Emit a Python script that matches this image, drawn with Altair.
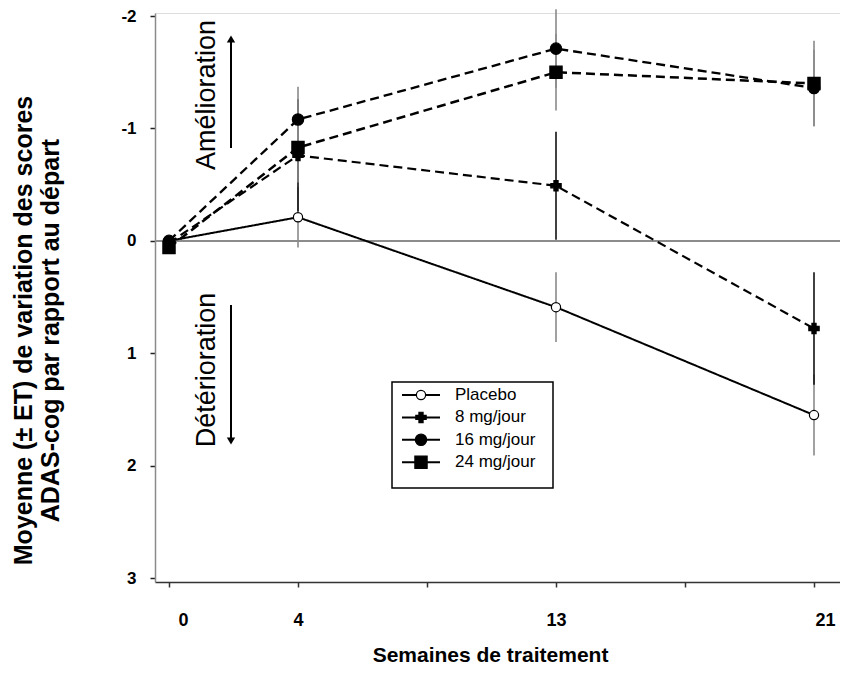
import altair as alt
import pandas as pd

# ---------------- data ----------------
weeks = [0, 4, 13, 21]
groups = ["Placebo", "8 mg/jour", "16 mg/jour", "24 mg/jour"]
mean_placebo = [0.0, -0.21, 0.59, 1.55]
mean_8mg = [0.02, -0.76, -0.49, 0.78]
mean_16mg = [0.0, -1.08, -1.71, -1.36]
mean_24mg = [0.06, -0.83, -1.50, -1.40]
se_placebo = [0.0, 0.27, 0.31, 0.36]
se_8mg = [0.0, 0.50, 0.48, 0.50]
se_16mg = [0.0, 0.29, 0.35, 0.34]
se_24mg = [0.0, 0.31, 0.34, 0.38]

x_tick_values = [0, 4, 8.5, 13, 17, 21]
x_tick_labels = ["0", "4", "", "13", "", "21"]
y_tick_values = [-2, -1, 0, 1, 2, 3]

annot_labels = ["Amélioration", "Détérioration"]

# ---------------- tables ----------------
rows = []
for g, means, ses in zip(groups, [mean_placebo, mean_8mg, mean_16mg, mean_24mg],
                         [se_placebo, se_8mg, se_16mg, se_24mg]):
    for w, m, s in zip(weeks, means, ses):
        rows.append({"group": g, "week": w, "value": m, "lo": m - s, "hi": m + s})
df = pd.DataFrame(rows)

# ---------------- layout / scales ----------------
W, H = 685, 569
step = 129
x_left = 14
px_per_week = step / 4.0
x_domain = [-x_left / px_per_week, 0, 4, 13, 21, 21 + (W - (x_left + 5 * step)) / px_per_week]
x_range = [0, x_left, x_left + step, x_left + 3 * step, x_left + 5 * step, W]
y_top, y_bot = -2.027, 3.035


def px_to_week(px):
    for i in range(len(x_range) - 1):
        if x_range[i] <= px <= x_range[i + 1] or i == len(x_range) - 2:
            f = (px - x_range[i]) / (x_range[i + 1] - x_range[i])
            return x_domain[i] + f * (x_domain[i + 1] - x_domain[i])


def py_to_val(py):
    return y_top + py / H * (y_bot - y_top)


# annotations (plot-relative pixel layout -> data space)
annot_df = pd.DataFrame({"week": [px_to_week(52)] * 2,
                         "value": [py_to_val(82), py_to_val(357)],
                         "label": annot_labels})
arrow_up = pd.DataFrame({"week": [px_to_week(76)], "value": [py_to_val(135)], "value2": [py_to_val(26)]})
arrow_dn = pd.DataFrame({"week": [px_to_week(76)], "value": [py_to_val(292)], "value2": [py_to_val(428)]})

# manual legend layout
box_df = pd.DataFrame({"x0": [px_to_week(237)], "x1": [px_to_week(398)],
                       "y0": [py_to_val(369)], "y1": [py_to_val(475)]})
leg_df = pd.DataFrame({
    "group": groups,
    "ly": [py_to_val(382 + 22.4 * i) for i in range(len(groups))],
    "lx0": [px_to_week(247)] * len(groups),
    "lx1": [px_to_week(285)] * len(groups),
    "lxc": [px_to_week(266)] * len(groups),
    "tx": [px_to_week(300)] * len(groups),
})

# ---------------- styles ----------------
dash_range = [[1, 0], [9, 5], [9, 5], [9, 5]]
width_range = [2, 2.5, 2.5, 2.5]
shape_range = ["circle", "cross", "circle", "square"]
fill_range = ["white", "black", "black", "black"]
size_range = [85, 150, 120, 110]
err_colors = ["#8a8a8a", "#111111", "#8a8a8a", "#8a8a8a"]

FONT = "Liberation Sans"

label_map = " : ".join(
    [f"datum.value == {v} ? '{t}'" for v, t in zip(x_tick_values, x_tick_labels)]
) + " : ''"

x_enc = alt.X(
    "week:Q",
    scale=alt.Scale(domain=x_domain, range=x_range, nice=False, zero=False),
    axis=alt.Axis(
        values=x_tick_values,
        labelExpr=label_map,
        title="Semaines de traitement",
        titleFontSize=21,
        titleFontWeight="bold",
        titlePadding=15,
        titleColor="black",
        titleX=335,
        titleAlign="center",
        labelFontSize=18,
        labelFontWeight="bold",
        labelColor="black",
        labelPadding=24,
        labelOffset={"condition": [{"test": "datum.value == 0", "value": 14},
                                   {"test": "datum.value == 21", "value": 11}],
                     "value": 0},
        labelFlush=False,
        tickSize=5,
        tickColor="#333333",
        tickWidth=1.5,
        domainColor="#333333",
        domainWidth=1.5,
        grid=False,
    ),
)

y_enc = alt.Y(
    "value:Q",
    scale=alt.Scale(domain=[y_top, y_bot], reverse=True, nice=False, zero=False),
    axis=alt.Axis(
        values=y_tick_values,
        labelExpr="datum.value < 0 ? '-' + format(abs(datum.value), 'd') : format(datum.value, 'd')",
        title=["Moyenne (± ET) de variation des scores", "ADAS-cog par rapport au départ"],
        titleAngle=270,
        titleX=-144,
        titleY=317,
        titleAlign="center",
        titleBaseline="top",
        titleFontSize=25,
        titleFontWeight="bold",
        titleLineHeight=27,
        titleColor="black",
        labelFontSize=17,
        labelFontWeight="bold",
        labelColor="black",
        labelPadding=14,
        tickSize=5,
        tickColor="#222222",
        tickWidth=1.5,
        domainColor="#8a8a8a",
        domainWidth=1.5,
        grid=False,
    ),
)

shape_scale = alt.Scale(domain=groups, range=shape_range)
fill_scale = alt.Scale(domain=groups, range=fill_range)
size_scale = alt.Scale(domain=groups, range=size_range)

zero = alt.Chart(df).mark_rule(color="#8c8c8c", strokeWidth=1.5).encode(y=alt.datum(0))

lines = alt.Chart(df).mark_line(color="black").encode(
    x=x_enc,
    y=y_enc,
    detail="group:N",
    strokeDash=alt.StrokeDash("group:N", scale=alt.Scale(domain=groups, range=dash_range), legend=None),
    strokeWidth=alt.StrokeWidth("group:N", scale=alt.Scale(domain=groups, range=width_range), legend=None),
)

errbars = alt.Chart(df).mark_rule(strokeWidth=1.6).encode(
    x="week:Q",
    y="lo:Q",
    y2="hi:Q",
    color=alt.Color("group:N", scale=alt.Scale(domain=groups, range=err_colors), legend=None),
)

points = alt.Chart(df).mark_point(filled=True, stroke="black", strokeWidth=1.2, opacity=1).encode(
    x="week:Q",
    y="value:Q",
    shape=alt.Shape("group:N", scale=shape_scale, legend=None),
    fill=alt.Fill("group:N", scale=fill_scale, legend=None),
    size=alt.Size("group:N", scale=size_scale, legend=None),
)

annot = alt.Chart(annot_df).mark_text(
    angle=270, font=FONT, fontSize=27, color="black", align="center", baseline="middle"
).encode(x="week:Q", y="value:Q", text="label:N")

arr_up_line = alt.Chart(arrow_up).mark_rule(color="black", strokeWidth=2).encode(
    x="week:Q", y="value:Q", y2="value2:Q")
arr_dn_line = alt.Chart(arrow_dn).mark_rule(color="black", strokeWidth=2).encode(
    x="week:Q", y="value:Q", y2="value2:Q")
arr_up_head = alt.Chart(arrow_up).mark_point(shape="triangle-up", filled=True, color="black", size=70, opacity=1).encode(
    x="week:Q", y="value2:Q")
arr_dn_head = alt.Chart(arrow_dn).mark_point(shape="triangle-down", filled=True, color="black", size=70, opacity=1).encode(
    x="week:Q", y="value2:Q")

legend_box = alt.Chart(box_df).mark_rect(fill="white", stroke="black", strokeWidth=1.5).encode(
    x="x0:Q", x2="x1:Q", y="y0:Q", y2="y1:Q")
legend_lines = alt.Chart(leg_df).mark_rule(color="black", strokeWidth=2).encode(
    x="lx0:Q", x2="lx1:Q", y="ly:Q")
legend_marks = alt.Chart(leg_df).mark_point(filled=True, stroke="black", strokeWidth=1.2, opacity=1).encode(
    x="lxc:Q",
    y="ly:Q",
    shape=alt.Shape("group:N", scale=shape_scale, legend=None),
    fill=alt.Fill("group:N", scale=fill_scale, legend=None),
    size=alt.Size("group:N", scale=size_scale, legend=None),
)
legend_text = alt.Chart(leg_df).mark_text(
    font=FONT, fontSize=17, color="black", align="left", baseline="middle"
).encode(x="tx:Q", y="ly:Q", text="group:N")

chart = alt.layer(
    zero, lines, errbars, points, annot,
    arr_up_line, arr_dn_line, arr_up_head, arr_dn_head,
    legend_box, legend_lines, legend_marks, legend_text,
).properties(
    width=W,
    height=H,
    autosize=alt.AutoSizeParams(type="none"),
    padding={"left": 147, "top": 5, "right": 0, "bottom": 87},
).configure_view(stroke=None).configure_axis(
    labelFont=FONT, titleFont=FONT
).configure(background="white")

chart.save("out.html", embed_options={"renderer": "svg", "actions": False})
